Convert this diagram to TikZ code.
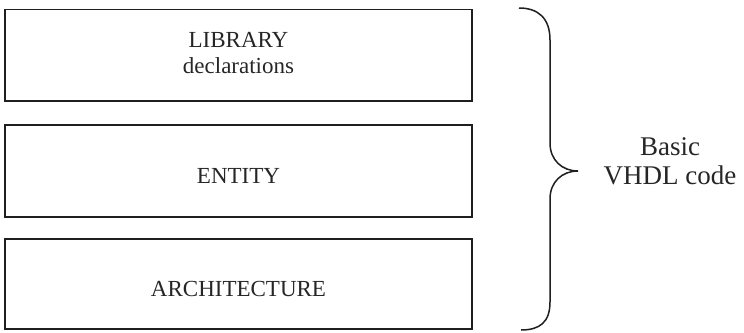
\documentclass[tikz,border=0pt]{standalone}
\usepackage{fontspec}
\setmainfont{Liberation Serif}
\begin{document}
\begin{tikzpicture}[x=1pt,y=-1pt,
  blockbox/.style={draw=black!88,line width=1.5pt,rectangle,minimum width=467pt,inner sep=0pt},
  boxtext/.style={font=\fontsize{23}{26}\selectfont,text=black!85,anchor=base,inner sep=0pt},
  bracetext/.style={font=\fontsize{27}{30}\selectfont,text=black!85,anchor=base,inner sep=0pt},
  bracestyle/.style={draw=black!88,line width=1.5pt}]
\useasboundingbox (0,0) rectangle (744,332);
% boxes
\node[blockbox,minimum height=91.5pt] (lib) at (238.5,55.25) {};
\node[blockbox,minimum height=92pt] (ent) at (238.5,171) {};
\node[blockbox,minimum height=90pt] (arch) at (238.5,284) {};
% texts
\node[boxtext] (libA) at (238.5,47) {LIBRARY};
\node[boxtext] (libB) at (238.5,73) {declarations};
\node[boxtext] (entT) at (238.5,183) {ENTITY};
\node[boxtext] (archT) at (238.5,296) {ARCHITECTURE};
% brace
\coordinate (btop) at (519,8);
\coordinate (btip) at (578,171);
\coordinate (bbot) at (521,330);
\draw[bracestyle] (btop) .. controls (538,8) and (550,18) .. (550,40)
  -- (550,143) .. controls (550,160) and (562,171) .. (btip)
  .. controls (562,171) and (550,182) .. (550,199)
  -- (550,302) .. controls (550,322) and (540,330) .. (bbot);
% label
\node[bracetext] (basic) at (670,155) {Basic};
\node[bracetext] (vhdl) at (670,184.5) {VHDL code};
\end{tikzpicture}
\end{document}
